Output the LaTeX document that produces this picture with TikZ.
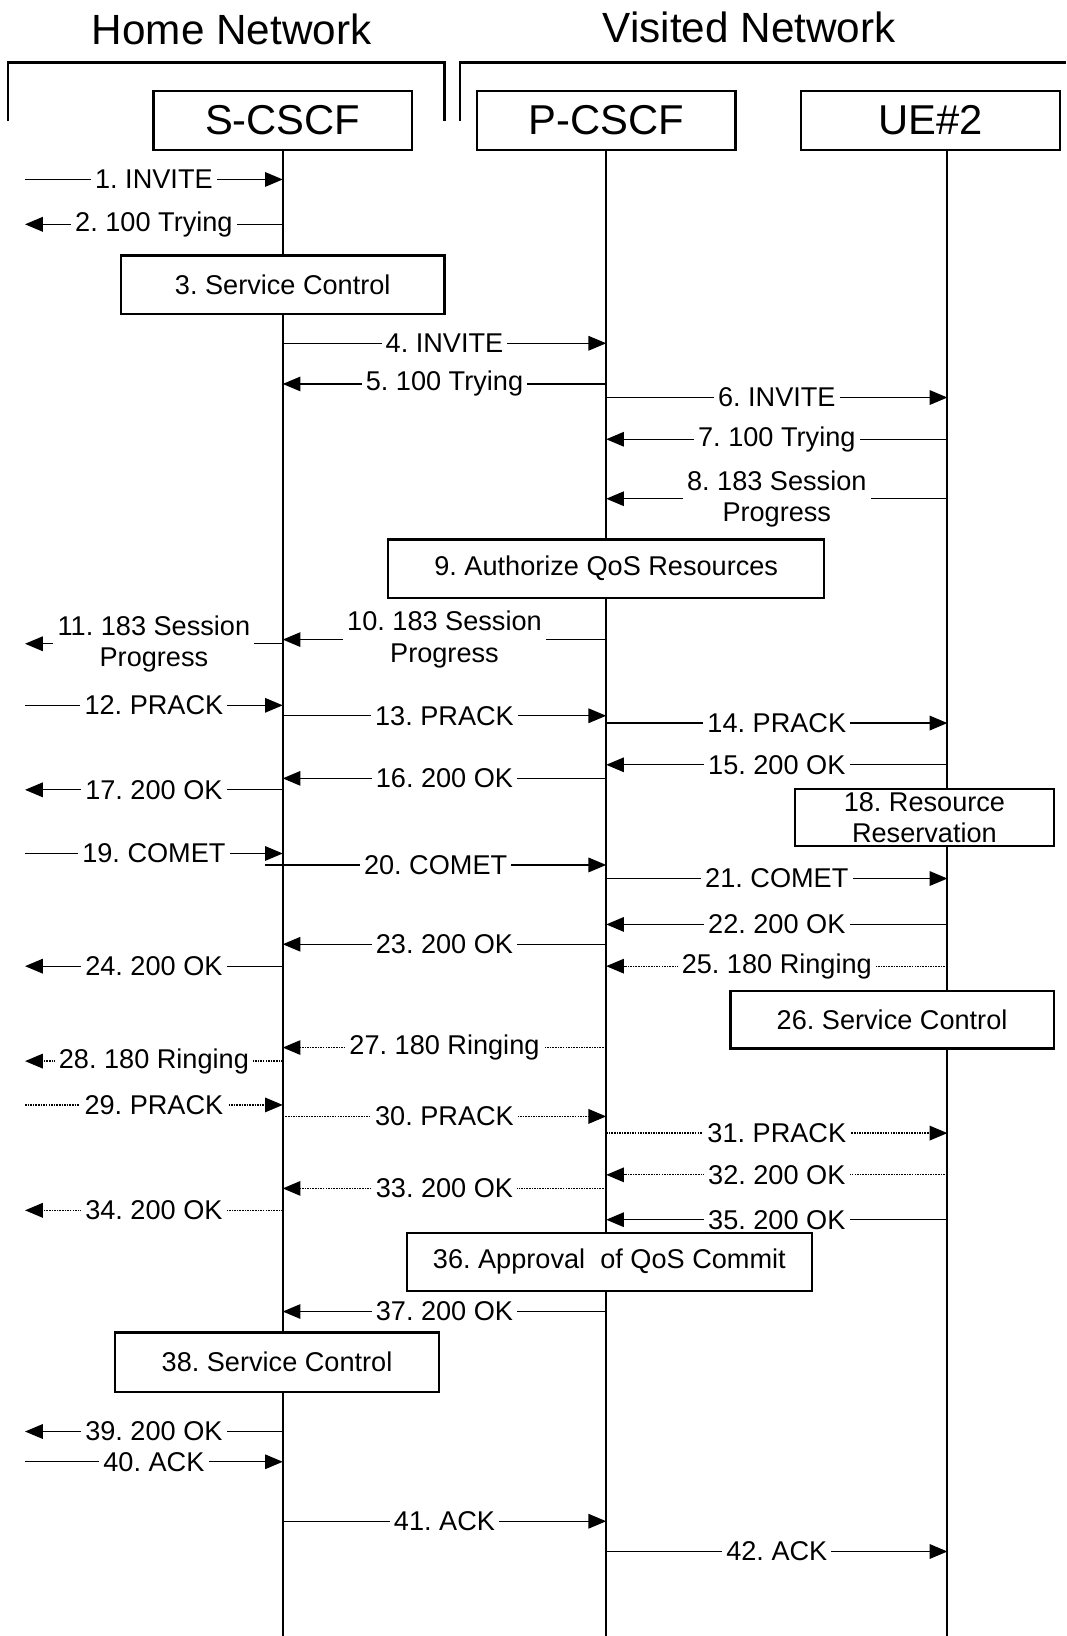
\documentclass[tikz,border=0pt]{standalone}
\usepackage{fontspec}
\setmainfont{Liberation Sans}
\usetikzlibrary{arrows.meta}
\frenchspacing
\begin{document}
\begin{tikzpicture}[x=1pt,y=-1pt,
  every node/.style={font=\fontsize{26}{30}\selectfont},
  msg/.style={line width=1.2pt,-{Triangle[length=17pt,width=14pt]}},
  dmsg/.style={msg,dash pattern=on 1.5pt off 1pt},
  lbl/.style={fill=white,inner xsep=4pt,inner ysep=1pt,align=center},
  life/.style={line width=2pt},
  ent/.style={draw,line width=2.2pt,minimum width=248pt,minimum height=57pt,inner sep=0pt,font=\fontsize{40}{48}\selectfont},
  actbox/.style={draw,line width=2.2pt,fill=white,inner sep=0pt,align=center},
  hdr/.style={font=\fontsize{40.5}{48}\selectfont},
  brk/.style={line width=2.2pt}]
\useasboundingbox (0,0) rectangle (1022,1568);
% headers
\node[hdr] (hn) at (222,28) {Home Network};
\node[hdr] (vn) at (718,26) {Visited Network};
\draw[brk] (8,116) -- (8,60) -- (426,60) -- (426,116);
\draw[brk] (441,116) -- (441,60) -- (1022,60);
% entities
\node[ent] (scscf) at (271,115.5) {S-CSCF};
\node[ent] (pcscf) at (581,115.5) {P-CSCF};
\node[ent] (ue) at (892,115.5) {UE\#2};
\coordinate (E) at (24,0);
\coordinate (S) at (271,0);
\coordinate (P) at (581,0);
\coordinate (U) at (908,0);
\coordinate (Sb) at (271,1568);
\coordinate (Pb) at (581,1568);
\coordinate (Ub) at (908,1568);
\draw[life] (scscf.south) -- (Sb);
\draw[life] (pcscf.south) -- (Pb);
\draw[life] (U |- ue.south) -- (Ub);
\newcommand\msgline[5][msg]{\draw[#1] (#3 |- 0,#2) -- node[lbl]{#5} (#4 |- 0,#2);}
\msgline{172}{E}{S}{1. INVITE}
\msgline{215}{S}{E}{2. 100 Trying}
\msgline{329}{S}{P}{4. INVITE}
\msgline{368}{P}{S}{5. 100 Trying}
\msgline{381}{P}{U}{6. INVITE}
\msgline{421}{U}{P}{7. 100 Trying}
\msgline{478}{U}{P}{8. 183 Session\\Progress}
\msgline{613}{P}{S}{10. 183 Session\\Progress}
\msgline{617}{S}{E}{11. 183 Session\\Progress}
\msgline{676}{E}{S}{12. PRACK}
\msgline{686}{S}{P}{13. PRACK}
\msgline{693}{P}{U}{14. PRACK}
\msgline{733}{U}{P}{15. 200 OK}
\msgline{746}{P}{S}{16. 200 OK}
\msgline{757}{S}{E}{17. 200 OK}
\msgline{818}{E}{S}{19. COMET}
\coordinate (S20) at (254,0);
\msgline{829}{S20}{P}{20. COMET}
\msgline{842}{P}{U}{21. COMET}
\msgline{886}{U}{P}{22. 200 OK}
\msgline{905}{P}{S}{23. 200 OK}
\msgline{926}{S}{E}{24. 200 OK}
\msgline[dmsg]{926}{U}{P}{25. 180 Ringing}
\msgline[dmsg]{1004}{P}{S}{27. 180 Ringing}
\msgline[dmsg]{1017}{S}{E}{28. 180 Ringing}
\msgline[dmsg]{1059}{E}{S}{29. PRACK}
\msgline[dmsg]{1070}{S}{P}{30. PRACK}
\msgline[dmsg]{1086}{P}{U}{31. PRACK}
\msgline[dmsg]{1126}{U}{P}{32. 200 OK}
\msgline[dmsg]{1139}{P}{S}{33. 200 OK}
\msgline[dmsg]{1160}{S}{E}{34. 200 OK}
\msgline{1169}{U}{P}{35. 200 OK}
\msgline{1257}{P}{S}{37. 200 OK}
\msgline{1372}{S}{E}{39. 200 OK}
\msgline{1401}{E}{S}{40. ACK}
\msgline{1458}{S}{P}{41. ACK}
\msgline{1487}{P}{U}{42. ACK}
% action boxes
\node[actbox,minimum width=310pt,minimum height=56pt] (b3) at (271,273) {3. Service Control};
\node[actbox,minimum width=418pt,minimum height=56pt] (b9) at (581,545) {9. Authorize QoS Resources};
\node[actbox,minimum width=248pt,minimum height=55pt,font=\fontsize{26}{30}\selectfont] (b18) at (886,783.5) {18. Resource\\Reservation};
\node[actbox,minimum width=310pt,minimum height=55pt] (b26) at (855,977.5) {26. Service Control};
\node[actbox,minimum width=388pt,minimum height=55pt] (b36) at (584,1209.5) {36. Approval\ \ of QoS Commit};
\node[actbox,minimum width=311pt,minimum height=57pt] (b38) at (265.5,1305.5) {38. Service Control};
\end{tikzpicture}
\end{document}
